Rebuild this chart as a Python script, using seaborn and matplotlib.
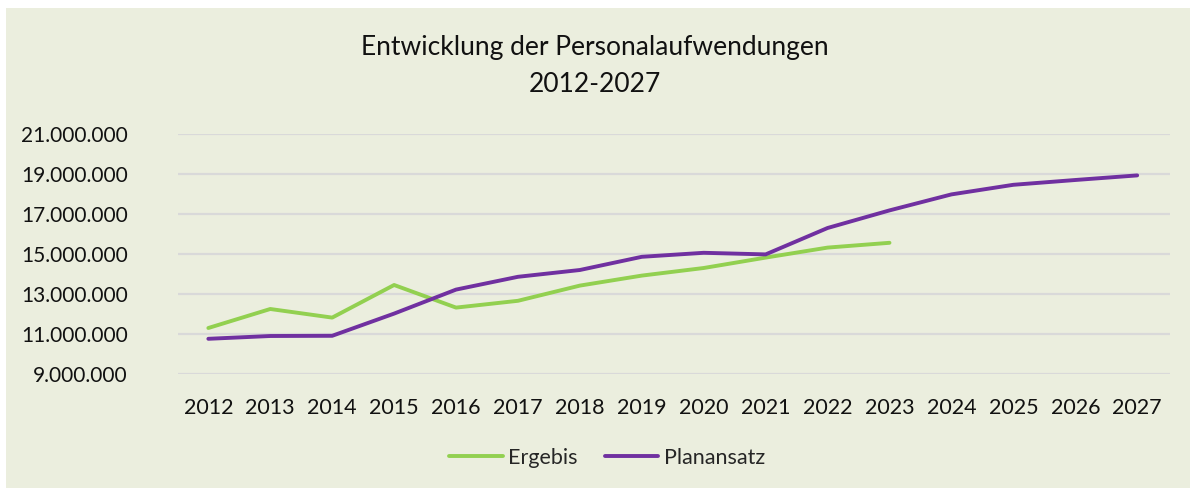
import numpy as np
import pandas as pd
import seaborn as sns
import matplotlib.pyplot as plt
from matplotlib.patches import Rectangle

# Data
years = list(range(2012, 2028))
ergebnis = [11.30, 12.25, 11.82, 13.45, 12.32, 12.66, 13.42, 13.92, 14.30,
            14.82, 15.32, 15.56]
planansatz = [10.76, 10.90, 10.91, 12.02, 13.22, 13.86, 14.20, 14.86, 15.06,
              14.98, 16.30, 17.18, 17.98, 18.46, 18.70, 18.93]
series_names = ["Ergebis", "Planansatz"]
colors = ["#92D050", "#7030A0"]
y_ticks = [9, 11, 13, 15, 17, 19, 21]

bg = "#EBEEDE"
text_col = "#111111"

df = pd.DataFrame({
    "idx": list(range(len(ergebnis))) + list(range(len(planansatz))),
    "value": [v * 1e6 for v in ergebnis] + [v * 1e6 for v in planansatz],
    "series": [series_names[0]] * len(ergebnis)
              + [series_names[1]] * len(planansatz),
})

sns.set_style("white")
plt.rcParams["font.family"] = ["Lato", "DejaVu Sans"]

fig = plt.figure(figsize=(11.9, 4.88), dpi=100)
fig.patch.set_facecolor("white")
fig.patches.append(Rectangle((6 / 1190, 0), 1, 480 / 488,
                             transform=fig.transFigure, facecolor=bg,
                             edgecolor="none", zorder=-10))

ax = fig.add_axes([178 / 1190, 1 - 374 / 488, (1170 - 178) / 1190,
                   (374 - 134) / 488])
ax.set_facecolor(bg)
ax.patch.set_alpha(0)

sns.lineplot(data=df, x="idx", y="value", hue="series",
             palette=dict(zip(series_names, colors)), linewidth=2.8,
             ax=ax, legend=False)
for line in ax.lines:
    line.set_solid_capstyle("round")
    line.set_solid_joinstyle("round")

ax.set_ylim(9e6, 21e6)
ax.set_yticks([t * 1e6 for t in y_ticks])
ax.set_yticklabels([f"{t:,}.000.000".replace(",", ".") for t in y_ticks],
                   fontsize=15, color=text_col)
ax.set_xlim(-0.49, len(years) - 0.47)
ax.set_xticks(range(len(years)))
ax.set_xticklabels([str(y) for y in years], fontsize=15.5, color=text_col)
ax.tick_params(axis="y", length=0, pad=36)
ax.tick_params(axis="x", length=0, pad=17)
ax.grid(axis="y", color="#D9D9D9", linewidth=1.6)
ax.set_axisbelow(True)
for s in ax.spines.values():
    s.set_visible(False)
ax.set_xlabel("")
ax.set_ylabel("")

fig.text(0.5, 1 - 47 / 488, "Entwicklung der Personalaufwendungen",
         ha="center", va="center", fontsize=19, color=text_col)
fig.text(0.5, 1 - 84 / 488, "2012-2027", ha="center", va="center",
         fontsize=19, color=text_col)

handles = [plt.Line2D([0], [0], color=c, linewidth=2.8,
                      solid_capstyle="round") for c in colors]
fig.legend(handles, series_names, loc="center",
           bbox_to_anchor=(607 / 1190, 1 - 458 / 488), ncol=2,
           frameon=False, fontsize=15.5, handlelength=2.5,
           handletextpad=0.25, columnspacing=1.25)

fig.savefig("out.png", dpi=100, facecolor=fig.get_facecolor())
